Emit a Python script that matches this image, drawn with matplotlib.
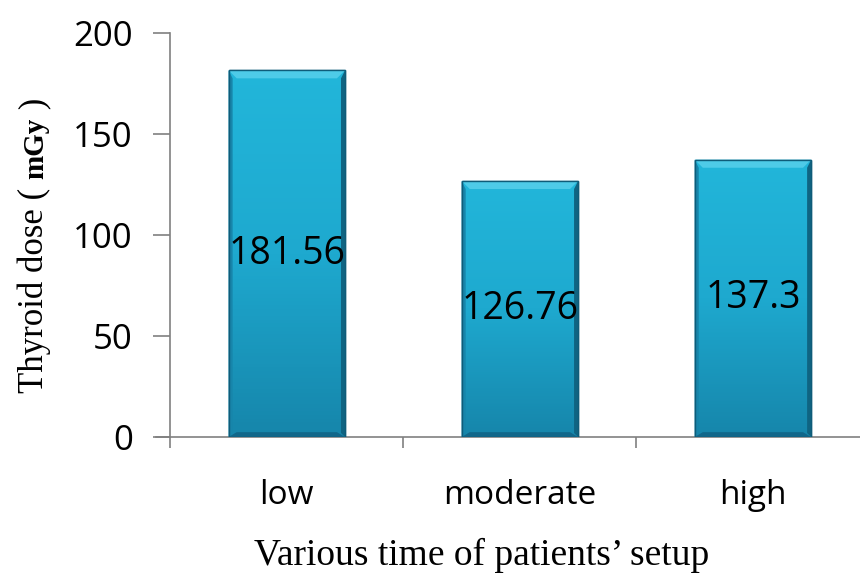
import matplotlib
matplotlib.use("Agg")
import matplotlib.pyplot as plt
import numpy as np
from matplotlib.patches import Polygon
from matplotlib.colors import LinearSegmentedColormap

categories = ["low", "moderate", "high"]
doses = [181.56, 126.76, 137.3]
value_labels = ["181.56", "126.76", "137.3"]

fig = plt.figure(figsize=(8.6, 5.77), dpi=100)
ax = fig.add_axes([0.198, 0.2426, 0.813, 0.7002])

edge = "#0f5c79"
w = 0.5
bars = ax.bar(range(len(categories)), doses, width=w, color="#1eb2d6",
              edgecolor=edge, linewidth=1.0, zorder=3)

grad = LinearSegmentedColormap.from_list("g", ["#1686ab", "#1ea9cf", "#22b6da"])
for i, (b, v) in enumerate(zip(bars, doses)):
    x0, x1 = i - w / 2, i + w / 2
    im = ax.imshow(np.linspace(0, 1, 100).reshape(-1, 1), cmap=grad,
                   extent=[x0, x1, 0, v], origin="lower", aspect="auto", zorder=3.5)
    im.set_clip_path(b)
    # bevel facets
    bx, by = 0.035, 4.0
    ax.add_patch(Polygon([(x0, v), (x1, v), (x1 - bx, v - by), (x0 + bx, v - by)],
                         closed=True, color="#4ecbe8", zorder=4, lw=0))
    ax.add_patch(Polygon([(x1, v), (x1, 0), (x1 - bx * 0.5, by * 0.5), (x1 - bx * 0.5, v - by)],
                         closed=True, color="#0f6482", zorder=4, lw=0))
    ax.add_patch(Polygon([(x0, 0), (x1, 0), (x1 - bx, by * 0.6), (x0 + bx, by * 0.6)],
                         closed=True, color="#11678a", zorder=4, lw=0))
    ax.add_patch(Polygon([(x0, v), (x0, 0), (x0 + bx * 0.5, by * 0.5), (x0 + bx * 0.5, v - by)],
                         closed=True, color="#1785aa", zorder=4, lw=0))
    ax.add_patch(Polygon([(x0, v), (x1, v), (x1, 0), (x0, 0)], closed=True,
                         fill=False, edgecolor=edge, lw=1.0, zorder=4.5))
    ax.text(i, v / 2, value_labels[i], ha="center", va="center",
            fontsize=27, family="Open Sans", color="black", zorder=5)

ax.set_xlim(-0.5, 2.5)
ax.set_ylim(0, 200)
ax.set_yticks([0, 50, 100, 150, 200])
ax.set_xticks([-0.5, 0.5, 1.5], minor=False)
ax.set_xticklabels([])
ax.set_xticks(range(len(categories)), minor=True)
ax.set_xticklabels(categories, minor=True)
ax.tick_params(axis="x", which="major", direction="out", length=8, width=1.2,
               color="#808080")
ax.tick_params(axis="x", which="minor", length=0, pad=30, labelsize=24)
ax.tick_params(axis="y", direction="out", length=12, width=1.2, color="#808080",
               pad=15, labelsize=25)
for lab in ax.get_xticklabels(minor=True) + ax.get_yticklabels():
    lab.set_family("Open Sans")

for s in ["top", "right"]:
    ax.spines[s].set_visible(False)
ax.spines["left"].set_color("#808080")
ax.spines["bottom"].set_color("#808080")
ax.spines["left"].set_linewidth(1.2)
ax.spines["bottom"].set_linewidth(1.2)
ax.spines["bottom"].set_bounds(-0.56, 2.5)

ax.set_xlabel("Various time of patients\u2019 setup", family="Liberation Serif",
              fontsize=27)
ax.xaxis.set_label_coords(0.446, -0.25)

# y label in pieces on a common baseline: serif text with a smaller bold unit
pieces = [("Thyroid dose ( ", 25, "normal"), ("mGy", 21, "bold"), (" )", 25, "normal")]
base_x = 43 / 860
ypix = 577 - 393
fig.canvas.draw()
r = fig.canvas.get_renderer()
for txt, size, weight in pieces:
    t = fig.text(base_x, ypix / 577, txt, rotation=90, rotation_mode="anchor",
                 ha="left", va="baseline", family="Liberation Serif",
                 fontsize=size, fontweight=weight)
    ypix += t.get_window_extent(r).height

fig.savefig("out.png", dpi=100)
